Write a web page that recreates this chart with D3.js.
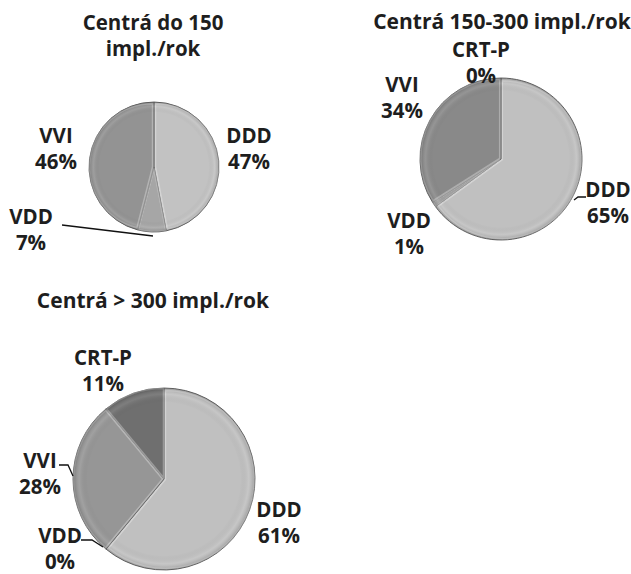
<!DOCTYPE html>
<html>
<head>
<meta charset="utf-8">
<script src="https://cdn.jsdelivr.net/npm/d3@7"></script>
<style>
  body { margin: 0; background: #fff; }
  svg text { font-family: "Open Sans", "Noto Sans", sans-serif; font-weight: bold; fill: #1e1e1e; }
</style>
</head>
<body>
<svg width="631" height="574"></svg>
<script>
(function () {

  // data per chart (values in %)
  var cats1 = ['DDD', 'VDD', 'VVI']
  var vals1 = [47, 7, 46]

  var cats2 = ['DDD', 'VDD', 'VVI', 'CRT-P']
  var vals2 = [65, 1, 34, 0]

  var cats3 = ['DDD', 'VDD', 'VVI', 'CRT-P']
  var vals3 = [61, 0, 28, 11]

  var titles = [
    ['Centrá do 150', 'impl./rok'],
    ['Centrá 150-300 impl./rok'],
    ['Centrá > 300 impl./rok']
  ]

  var svg = d3.select('svg')

  // soft rim shading like the office bevel
  var defs = svg.append('defs')
  var rim = defs.append('radialGradient').attr('id', 'rim')
  rim.append('stop').attr('offset', '0.84').attr('stop-color', '#000').attr('stop-opacity', 0)
  rim.append('stop').attr('offset', '0.93').attr('stop-color', '#fff').attr('stop-opacity', 0.1)
  rim.append('stop').attr('offset', '1').attr('stop-color', '#000').attr('stop-opacity', 0.2)

  // layout: pie centre, radius, colours, title lines, label anchors (x, first baseline) and leaders
  var charts = [
    {
      cats: cats1, vals: vals1, title: titles[0], titleSize: 20.5,
      colors: { 'DDD': '#c2c2c2', 'VDD': '#a6a6a6', 'VVI': '#939393' },
      cx: 154, cy: 167, r: 65,
      titleX: 153, titleY: [30, 56],
      labels: { 'DDD': [249, 143], 'VVI': [56, 143], 'VDD': [31, 224] },
      leaders: [ [[62, 225], [153, 236]] ]
    },
    {
      cats: cats2, vals: vals2, title: titles[1], titleSize: 21,
      colors: { 'DDD': '#c0c0c0', 'VDD': '#a0a0a0', 'VVI': '#898989', 'CRT-P': '#707070' },
      cx: 501, cy: 159, r: 81,
      titleX: 502, titleY: [29],
      labels: { 'CRT-P': [481, 57], 'VVI': [402, 92], 'VDD': [409, 228], 'DDD': [608, 197] },
      leaders: [ [[586, 197], [578, 197], [574, 200]] ]
    },
    {
      cats: cats3, vals: vals3, title: titles[2], titleSize: 21,
      colors: { 'DDD': '#c0c0c0', 'VDD': '#a6a6a6', 'VVI': '#969696', 'CRT-P': '#6f6f6f' },
      cx: 164, cy: 479, r: 91,
      titleX: 153, titleY: [308],
      labels: { 'CRT-P': [103, 365], 'VVI': [40, 468], 'VDD': [60, 543], 'DDD': [279, 517] },
      leaders: [ [[59, 465], [68, 465], [73, 476]], [[81, 540], [92, 540], [103, 547]] ]
    }
  ]

  var pie = d3.pie().sort(null).value(d => d.v)

  charts.forEach(function (c) {
    var data = c.cats.map((k, i) => ({ k: k, v: c.vals[i] }))
    var arcs = pie(data)
    var arc = d3.arc().innerRadius(0).outerRadius(c.r)

    var g = svg.append('g').attr('transform', 'translate(' + c.cx + ',' + c.cy + ')')

    g.selectAll('path.slice')
      .data(arcs.filter(d => d.data.v > 0))
      .enter().append('path')
      .attr('class', 'slice')
      .attr('d', arc)
      .attr('fill', d => c.colors[d.data.k])
      .attr('stroke', '#6a6a6a')
      .attr('stroke-width', 1)
      .attr('stroke-linejoin', 'round')

    // thin highlight along slice edges
    g.selectAll('path.hl')
      .data(arcs.filter(d => d.data.v > 0))
      .enter().append('path')
      .attr('class', 'hl')
      .attr('d', d3.arc().innerRadius(0).outerRadius(c.r - 2))
      .attr('fill', 'none')
      .attr('stroke', '#fff')
      .attr('stroke-opacity', 0.3)
      .attr('stroke-width', 1.5)
      .attr('transform', function (d) {
        var a = (d.startAngle + d.endAngle) / 2
        return 'translate(' + (Math.sin(a) * 1.5) + ',' + (-Math.cos(a) * 1.5) + ')'
      })

    g.append('circle')
      .attr('r', c.r)
      .attr('fill', 'url(#rim)')

    // title
    var t = svg.append('text')
      .attr('x', c.titleX)
      .attr('text-anchor', 'middle')
      .style('font-size', c.titleSize + 'px')
    c.title.forEach(function (line, i) {
      t.append('tspan').attr('x', c.titleX).attr('y', c.titleY[i]).text(line)
    })

    // leader lines
    c.leaders.forEach(function (pts) {
      svg.append('path')
        .attr('d', d3.line()(pts))
        .attr('fill', 'none')
        .attr('stroke', '#111')
        .attr('stroke-width', 1.3)
    })

    // data labels
    arcs.forEach(function (d) {
      var pos = c.labels[d.data.k]
      var lab = svg.append('text')
        .attr('text-anchor', 'middle')
        .style('font-size', '20.5px')
      lab.append('tspan').attr('x', pos[0]).attr('y', pos[1]).text(d.data.k)
      lab.append('tspan').attr('x', pos[0]).attr('y', pos[1] + 26).text(d.data.v + '%')
    })
  })

})()
</script>
</body>
</html>
